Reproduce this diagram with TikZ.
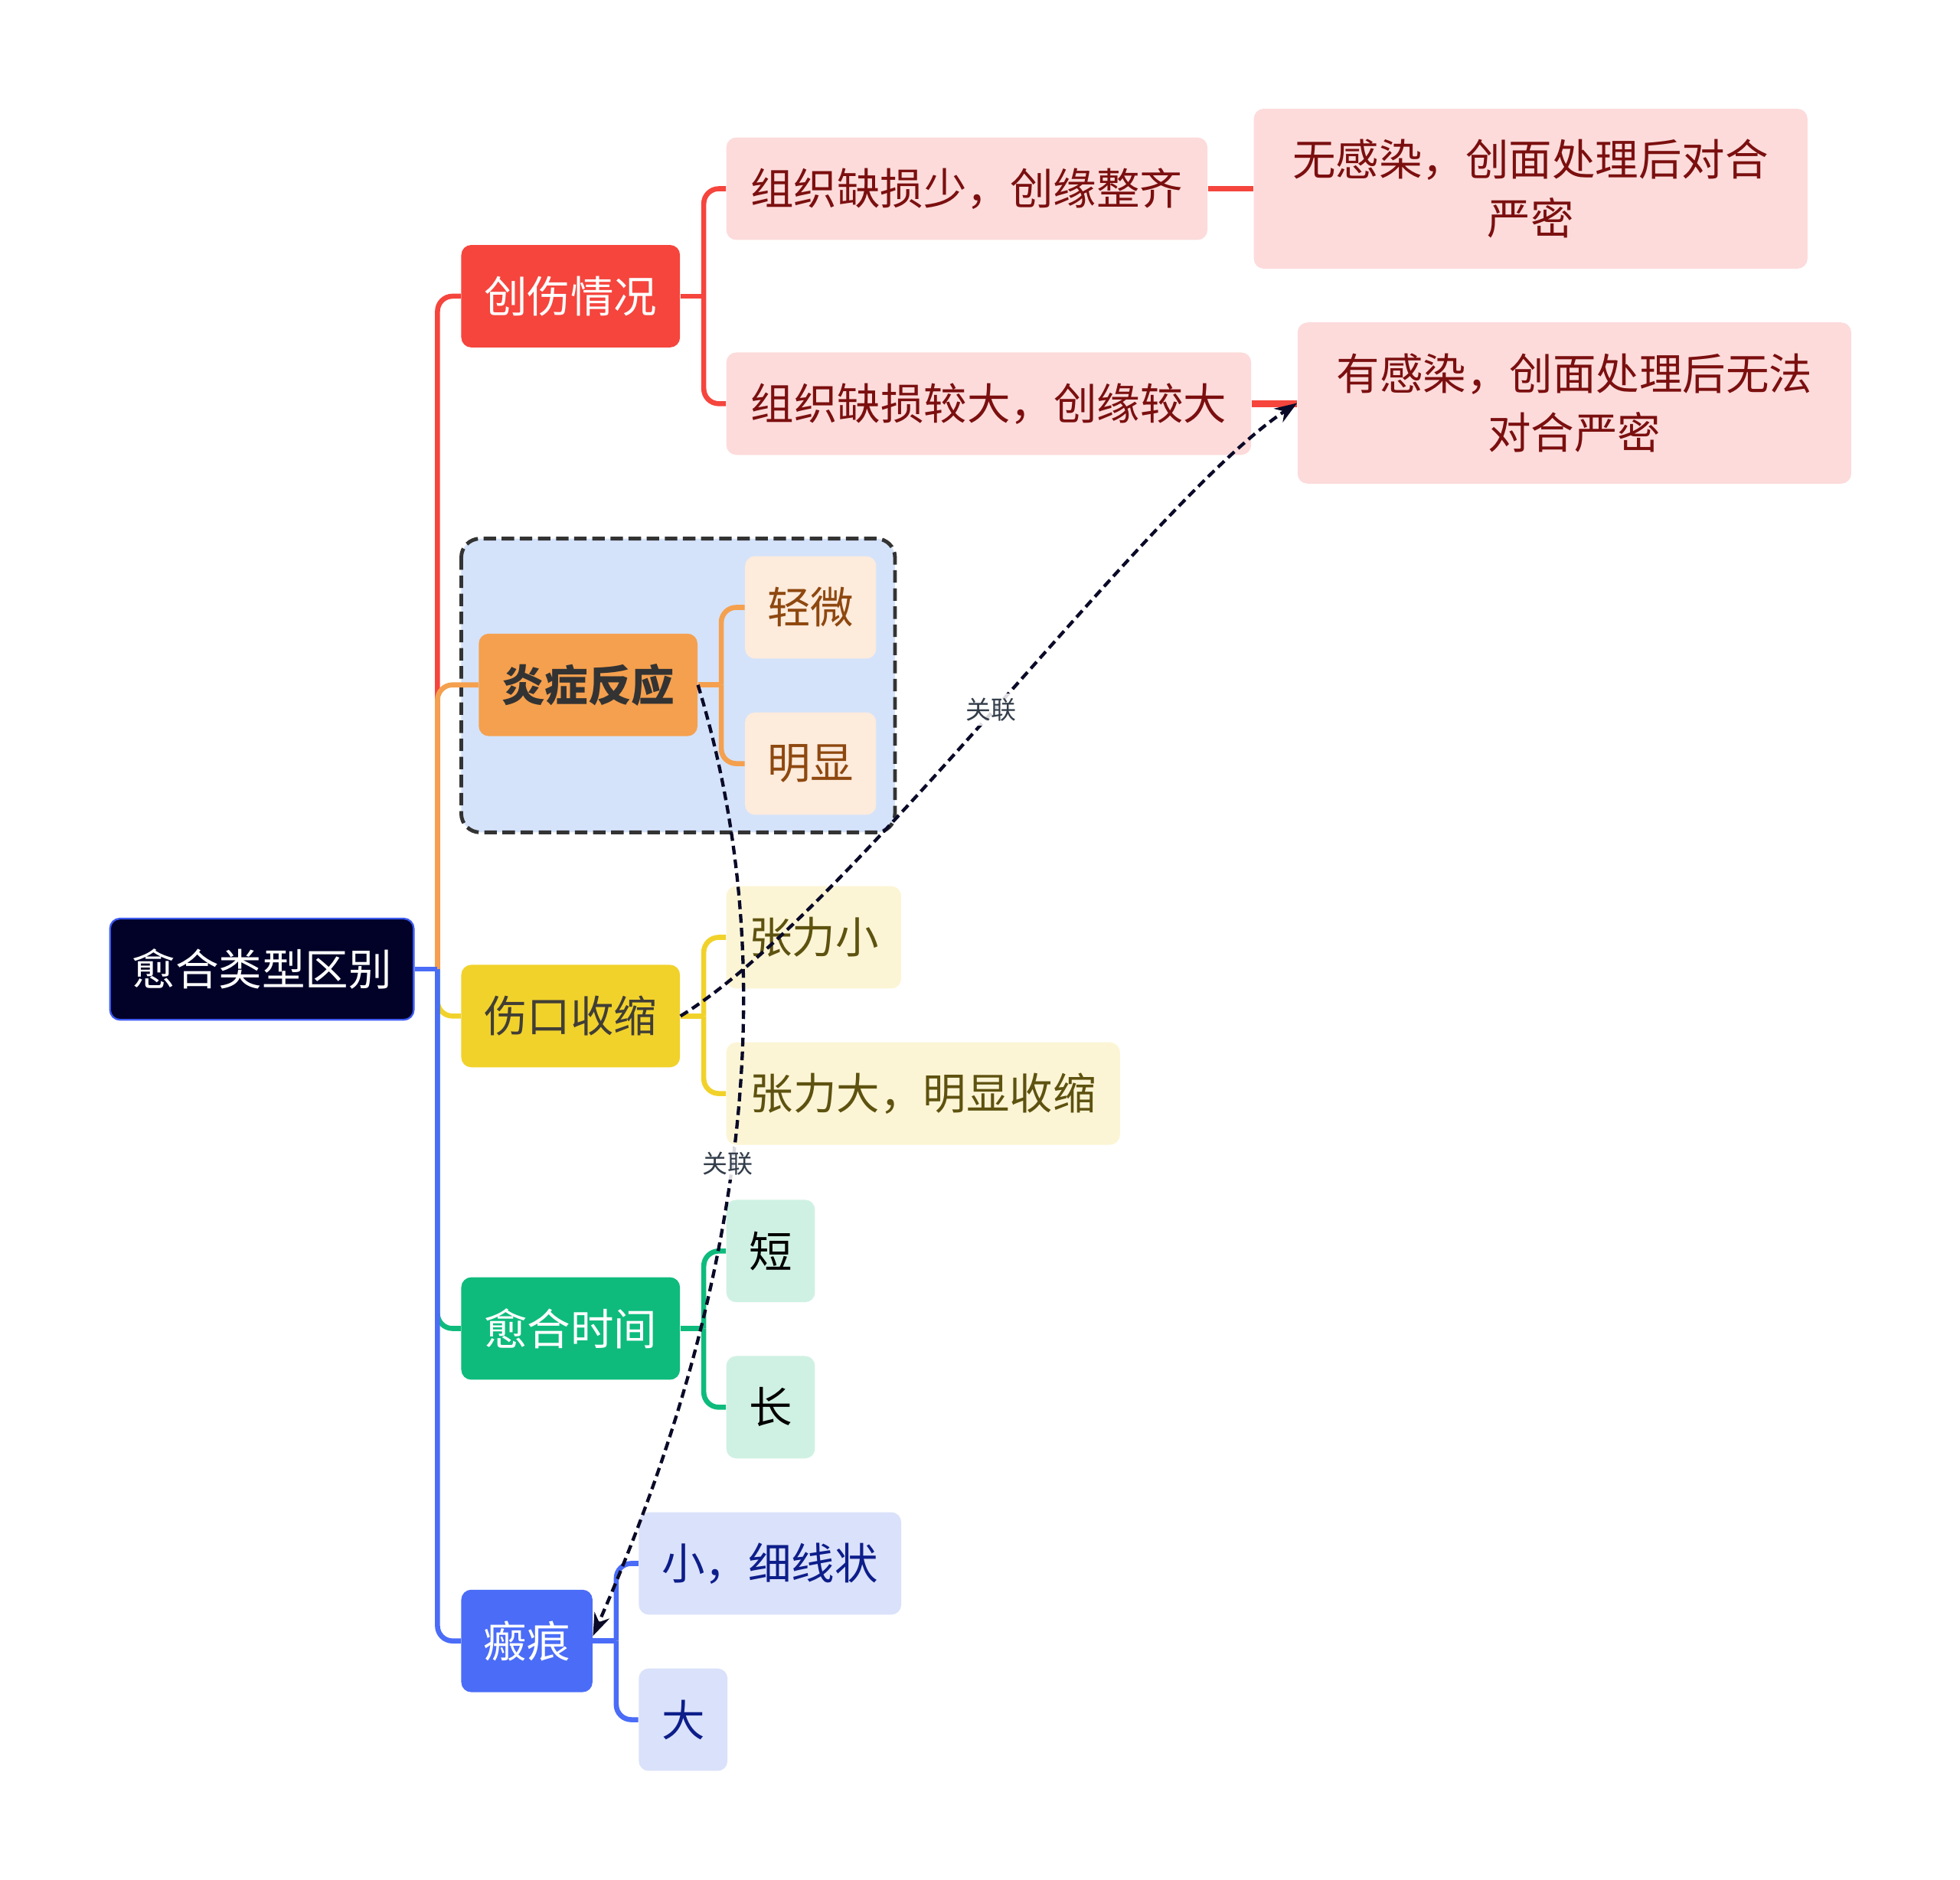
\documentclass[tikz,border=0pt]{standalone}
\usepackage{fontspec}
\setmainfont{Noto Sans CJK SC}
\usetikzlibrary{arrows.meta}
\definecolor{rootfill}{HTML}{020228}
\definecolor{rootline}{HTML}{3D5AF1}
\definecolor{cred}{HTML}{F5453D}
\definecolor{corange}{HTML}{F5A04E}
\definecolor{cyellow}{HTML}{F1D22B}
\definecolor{cgreen}{HTML}{0EBB7D}
\definecolor{cblue}{HTML}{4A6CF7}
\definecolor{pinkfill}{HTML}{FDDBDB}
\definecolor{pinktext}{HTML}{7B0F0F}
\definecolor{orfill}{HTML}{FDEBDC}
\definecolor{ortext}{HTML}{8E480F}
\definecolor{yefill}{HTML}{FCF5D5}
\definecolor{yetext}{HTML}{5E5210}
\definecolor{grfill}{HTML}{CFF1E3}
\definecolor{blfill}{HTML}{DAE1FA}
\definecolor{bltext}{HTML}{0D1E8A}
\definecolor{groupfill}{HTML}{D4E3FA}
\definecolor{relcol}{HTML}{0A0A28}
\definecolor{labcol}{HTML}{333D4A}
\newcommand\mainfs{\fontsize{19.7pt}{26.7pt}\selectfont}
\tikzset{
  box/.style={rounded corners=0.16cm, inner sep=0pt, align=center, font=\mainfs, minimum height=1.64cm},
  rootbox/.style={box, fill=rootfill, draw=rootline, line width=0.8pt, text=white},
  redbox/.style={box, fill=cred, text=white},
  orbox/.style={box, fill=corange, text=black!80, font=\mainfs\bfseries},
  yebox/.style={box, fill=cyellow, text=black!80!yellow!70!black},
  grbox/.style={box, fill=cgreen, text=white},
  blbox/.style={box, fill=cblue, text=white},
  pinkbox/.style={box, fill=pinkfill, text=pinktext},
  orlight/.style={box, fill=orfill, text=ortext},
  yelight/.style={box, fill=yefill, text=yetext},
  grlight/.style={box, fill=grfill, text=black},
  bllight/.style={box, fill=blfill, text=bltext},
  conn/.style={line width=2.3pt, rounded corners=0.24cm},
  lred/.style={conn, draw=cred},
  lorange/.style={conn, draw=corange},
  lyellow/.style={conn, draw=cyellow},
  lgreen/.style={conn, draw=cgreen},
  lblue/.style={conn, draw=cblue},
  rel/.style={draw=relcol, line width=1.5pt, dash pattern=on 0.14cm off 0.08cm, -{Stealth[length=0.36cm,width=0.26cm]}},
  rellabel/.style={fill=white, fill opacity=0.85, text opacity=1, text=labcol, font=\fontsize{11.5pt}{13pt}\selectfont, inner sep=2pt}
}
\begin{document}
\begin{tikzpicture}[x=0.02cm, y=-0.02cm]
\useasboundingbox (0,0) rectangle (1568,1504);
% group box
\draw[fill=groupfill, draw=black!80, line width=1.7pt, dash pattern=on 0.2cm off 0.09cm, rounded corners=0.3cm] (369,431) rectangle (716,666);
% root and main branches
\node[rootbox, minimum width=4.86cm, minimum height=1.62cm] (root) at (209.5,775.5) {愈合类型区别};
\node[redbox, minimum width=3.5cm] (n1) at (456.5,237) {创伤情况};
\node[orbox, minimum width=3.5cm] (n2) at (470.5,548) {炎症反应};
\node[yebox, minimum width=3.5cm] (n3) at (456.5,813) {伤口收缩};
\node[grbox, minimum width=3.5cm] (n4) at (456.5,1063) {愈合时间};
\node[blbox, minimum width=2.1cm] (n5) at (421.5,1313) {瘢痕};
% children
\node[pinkbox, minimum width=7.7cm] (c11) at (773.5,151) {组织缺损少，创缘整齐};
\node[pinkbox, minimum width=8.4cm] (c12) at (791,323) {组织缺损较大，创缘较大};
\node[pinkbox, minimum width=8.86cm, minimum height=2.56cm] (d1) at (1224.5,151) {无感染，创面处理后对合\\严密};
\node[pinkbox, minimum width=8.86cm, minimum height=2.58cm] (d2) at (1259.5,322.5) {有感染，创面处理后无法\\对合严密};
\node[orlight, minimum width=2.1cm] (k1) at (648.5,486) {轻微};
\node[orlight, minimum width=2.1cm] (k2) at (648.5,611) {明显};
\node[yelight, minimum width=2.8cm] (z1) at (651,750) {张力小};
\node[yelight, minimum width=6.3cm] (z2) at (738.5,875) {张力大，明显收缩};
\node[grlight, minimum width=1.42cm] (g1) at (616.5,1001) {短};
\node[grlight, minimum width=1.42cm] (g2) at (616.5,1126) {长};
\node[bllight, minimum width=4.2cm] (b1) at (616,1251) {小，细线状};
\node[bllight, minimum width=1.42cm] (b2) at (546.5,1376) {大};
% root connectors
\coordinate (sp) at (350,775.5);
\draw[lred] (sp) |- (n1.west);
\draw[lorange] (sp) |- (n2.west);
\draw[lyellow] (sp) |- (n3.west);
\draw[lgreen] (sp) |- (n4.west);
\draw[lblue] (sp) |- (n5.west);
\draw[lblue, rounded corners=0pt] (root.east) -- (sp);
% red
\coordinate (j1) at (563,237);
\draw[lred] (n1.east) -- (j1);
\draw[lred] (j1) |- (c11.west);
\draw[lred] (j1) |- (c12.west);
\draw[lred] (c11.east) -- (d1.west |- c11.east);
\draw[lred, line width=3pt] (c12.east) -- (d2.west |- c12.east);
% orange
\coordinate (j2) at (577,548);
\draw[lorange] (n2.east) -- (j2);
\draw[lorange] (j2) |- (k1.west);
\draw[lorange] (j2) |- (k2.west);
% yellow
\coordinate (j3) at (563,813);
\draw[lyellow] (n3.east) -- (j3);
\draw[lyellow] (j3) |- (z1.west);
\draw[lyellow] (j3) |- (z2.west);
% green
\coordinate (j4) at (563,1063);
\draw[lgreen] (n4.east) -- (j4);
\draw[lgreen] (j4) |- (g1.west);
\draw[lgreen] (j4) |- (g2.west);
% blue
\coordinate (j5) at (493,1313);
\draw[lblue] (n5.east) -- (j5);
\draw[lblue] (j5) |- (b1.west);
\draw[lblue] (j5) |- (b2.west);
% relations
\draw[rel] (n3.east) .. controls (680,730) and (920,400) .. (d2.west);
\draw[rel] (n2.east) .. controls (620,750) and (610,1000) .. ([yshift=0.08cm]n5.east);
\node[rellabel] (lab1) at (793,568) {关联};
\node[rellabel] (lab2) at (582,931) {关联};
\end{tikzpicture}
\end{document}
